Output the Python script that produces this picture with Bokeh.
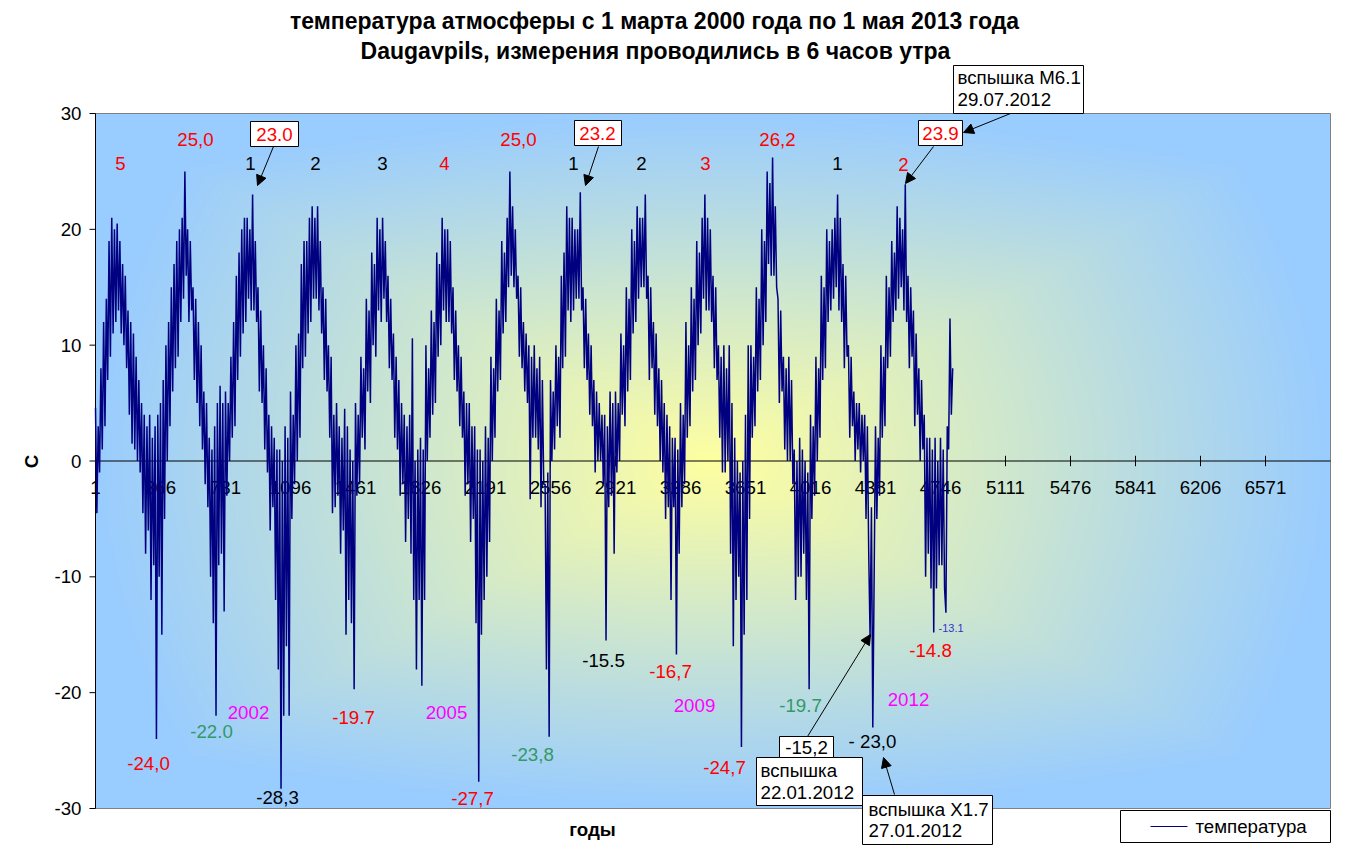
import numpy as np
from bokeh.plotting import figure
from bokeh.models import Range1d, Arrow, NormalHead
from bokeh.embed import file_html
from bokeh.resources import INLINE
from bokeh.core.properties import value

# ---- temperature at 6:00, Daugavpils (4 readings per month, Mar..Feb) ----
t_2000_01 = [4.6, -4.5, 3, -1, 8, 1, 12, 3, 14, 7, 19, 9, 21, 11, 20, 12, 20.5, 13, 19, 11, 17, 10, 16, 8,
             13, 4, 12, 1.5, 11, 1, 9, 0, 7, -1, 5, -4.5, 4, -8, 3, -6, 4, -12, 2, -9, 3, -24, 4, -10]
t_2001_02 = [5, -15, 7, -5, 10, 0, 12, 3, 15, 6, 17, 8, 19, 9, 20, 12, 21, 14, 25, 16, 20, 12, 19, 13,
             15, 7, 14, 5, 12, 3, 10, 1, 6, -2, 5, -4, 2, -10, 1, -14, 3, -22, 5, -9, 6.5, -8, 5, -13]
t_2002_03 = [6, -3, 5, 0, 9, 2, 12, 3, 16, 7, 18, 9, 20, 11, 21, 12, 21, 14, 20, 13, 23, 13, 19, 12,
             15, 6, 13, 5, 10, 1, 8, -1, 4, -6, 3, -4, 2, -12, 1, -18, 1, -28.3, 0, -22, 3, -16, 2, -22]
t_2003_04 = [6, -5, 4, -2, 10, 0, 11, 2, 17, 8, 19, 9, 19, 11, 21, 12, 22, 14, 21, 14, 22, 13, 19, 11,
             15, 7, 14, 6, 10, 2, 9, -4.5, 4, -4, 5, -3, 3, -8, 2, -6, 4.5, -15, 3, -12, 1, -14, 0, -19.7]
t_2004_05 = [5, -3, 4, -2, 9, 2, 8, 1, 14, 6, 13, 5, 18, 10, 17, 9, 21, 13, 20, 12, 21, 14, 19, 12,
             16, 8, 14, 7, 11, 2, 9, 1, 7, -3, 5, -2, 4, -7, 3, -5, 4, -8, 10.6, -12, 0, -18, 1, -12]
t_2005_06 = [2, -19.4, 1, -12, 10, 0, 8, 2, 13, 4, 12, 5, 18, 9, 17, 10, 21, 13, 20, 12, 20, 12, 19, 11,
             15, 7, 13, 6, 10, 3, 9, 2, 6, -3, 5, -2, 5, -7, 3, -5, 3, -14, 1, -27.7, 1, -15, 0, -12]
t_2006_07 = [3, -10, 2, -7, 9, 0, 8, 2, 14, 6, 13, 7, 19, 11, 18, 12, 21, 15, 25, 16, 22, 15, 20, 14,
             16, 9, 15, 8, 12, 6, 11, 5, 10, -3.3, 9, 2, 10, 2, 8, 1, 9, -4, 7, -2, -2, -18, -1, -23.8]
t_2007_08 = [7, 0, 6, 1, 10, 3, 9, 2, 16, 8, 18, 9, 22, 13, 21, 12, 21, 13, 20, 14, 20, 14, 23.2, 13,
             15, 8, 14, 7, 11, 4, 10, 3, 7, -1, 6, 0, 5, 0, 4, -2, 4, -15.5, 3, -4, 6, -3, 5, -8]
t_2008_09 = [6, -1, 5, 0, 11, 4, 10, 3, 15, 6, 14, 7, 20, 11, 19, 12, 22, 14, 21, 15, 21, 15, 23, 14,
             16, 7, 15, 8, 12, 4, 11, 3, 8, 0, 7, -1, 5, -5, 4, -4, 3, -12, 2, -4, 2, -16.7, 1, -8]
t_2009_10 = [5, -4, 4, -2, 12, 2, 10, 3, 15, 6, 14, 7, 19, 10, 18, 11, 21, 14, 23, 13, 21, 13, 20, 12,
             16, 8, 15, 7, 10, 2, 9, -1, 10, -1, 8, 0, 10, -8, 5, -16, 2, -12, 0, -10, -1, -24.7, 0, -15]
t_2010_11 = [4, -12, 10, -5, 10, 2, 9, 3, 15, 6, 14, 7, 20, 10, 19, 12, 25, 17, 24, 16, 26.2, 16, 22, 15,
             14, 5, 13, 6, 9, 1, 8, 0, 9, 0, 7, -2, 1, -12, 0, -10, 2, -10, 1, -8, 0, -12, -1, -19.7]
t_2011_12 = [4, -5, 3, -3, 9, 0, 8, 2, 16, 7, 15, 8, 20, 12, 19, 13, 20, 14, 21, 15, 23, 13, 21, 12,
             17, 8, 16, 9, 10, 2, 9, 3, 6, 0, 5, 1, 5, -1, 4, 0, 4, -5, 3, -8, -15.2, -4, -23.0, -10]
t_2012_13 = [3, -5, 2, -3, 10, 2, 9, 3, 16, 8, 15, 9, 19, 12, 18, 13, 22, 14, 21, 15, 20, 13, 23.9, 12,
             16, 8, 15, 9, 13, 3, 11, 4, 8, 0, 7, 1, 4, -10, 2, -8, 2, -11, 1, -14.8, 2, -11, 0, -9]
t_2013 = [2, -9, 1, -11, -13.1, 3, 1, 12.3, 4, 8]

x_tick_values = [1, 366, 731, 1096, 1461, 1826, 2191, 2556, 2921, 3286, 3651, 4016, 4381, 4746,
                 5111, 5476, 5841, 6206, 6571]
x_tick_labels = [str(v) for v in x_tick_values]
y_tick_values = [-30, -20, -10, 0, 10, 20, 30]
y_tick_labels = [str(v) for v in y_tick_values]

seasons = [t_2000_01, t_2001_02, t_2002_03, t_2003_04, t_2004_05, t_2005_06, t_2006_07,
           t_2007_08, t_2008_09, t_2009_10, t_2010_11, t_2011_12, t_2012_13, t_2013]
temps = np.concatenate([np.array(s, dtype=float) for s in seasons])
days = 1 + np.arange(len(temps)) * (365.0 / 48.0)

FONT = "Liberation Sans"

XMIN, XMAX, YMIN, YMAX = 1, 6936, -30, 30
# plot area in screenshot pixels: x 95..1330, y 113..808 ; canvas starts at screenshot (0, 0)
def dx(px):
    return XMIN + (px - 95) * (XMAX - XMIN) / 1235.0

def dy(py):
    return YMAX - (py - 113) * (YMAX - YMIN) / 695.0

W, H = 1355, 848
p = figure(width=W, height=H, x_range=Range1d(dx(0), dx(W)), y_range=Range1d(dy(H), dy(0)),
           output_backend="svg", toolbar_location=None, x_axis_location=None, y_axis_location=None,
           min_border=0)
p.title.visible = False
p.background_fill_color = "white"
p.border_fill_color = "white"
p.outline_line_color = None
p.grid.visible = False

# gradient plot-area background (from centre: pale yellow -> light blue)
gw, gh = 618, 348
u = (np.arange(gw) + 0.5) / gw * 2 - 1
v = (np.arange(gh) + 0.5) / gh * 2 - 1
U, V = np.meshgrid(u, v)
t = np.clip(0.6 * np.maximum(np.abs(U), np.abs(V)) + 0.4 * np.sqrt(U ** 2 + V ** 2), 0, 1)
c0 = np.array([255, 255, 160], dtype=float)
c1 = np.array([153, 204, 255], dtype=float)
img = np.empty((gh, gw), dtype=np.uint32)
view = img.view(dtype=np.uint8).reshape((gh, gw, 4))
for k in range(3):
    view[:, :, k] = np.round(c0[k] + (c1[k] - c0[k]) * t).astype(np.uint8)
view[:, :, 3] = 255
p.image_rgba(image=[img], x=XMIN, y=YMIN, dw=XMAX - XMIN, dh=YMAX - YMIN)
p.quad(left=[XMIN], right=[XMAX], bottom=[YMIN], top=[YMAX], fill_color=None,
       line_color="#808080", line_width=1)

# y axis
p.segment(x0=[XMIN], y0=[YMIN], x1=[XMIN], y1=[YMAX], line_color="black", line_width=1)
p.segment(x0=[dx(89)] * len(y_tick_values), y0=y_tick_values, x1=[XMIN] * len(y_tick_values),
          y1=y_tick_values, line_color="black", line_width=1)
p.text(x=[dx(81)] * len(y_tick_values), y=y_tick_values, text=y_tick_labels,
       text_font=value(FONT), text_font_size="18.7px", text_color="black",
       text_align="right", text_baseline="middle")

# zero line with ticks and labels (x axis crossing at 0)
p.segment(x0=[XMIN], y0=[0], x1=[XMAX], y1=[0], line_color="black", line_width=1)
p.segment(x0=x_tick_values, y0=[-0.45] * len(x_tick_values), x1=x_tick_values,
          y1=[0.45] * len(x_tick_values), line_color="black", line_width=1)
p.text(x=x_tick_values, y=[dy(487)] * len(x_tick_values), text=x_tick_labels,
       text_font=value(FONT), text_font_size="18.7px", text_color="black",
       text_align="center", text_baseline="middle")

# temperature line
p.line(days, temps, line_color="#000080", line_width=1.5)


def txt(px, py, text, color="black", size="18.7px", bold=False, font=FONT, align="center", angle=0):
    p.text(x=[dx(px)], y=[dy(py)], text=[text], text_color=color, text_font=value(font),
           text_font_size=size, text_font_style="bold" if bold else "normal",
           text_align=align, text_baseline="middle", angle=angle)


def box(px0, py0, px1, py1):
    p.quad(left=[dx(px0)], right=[dx(px1)], top=[dy(py0)], bottom=[dy(py1)],
           fill_color="white", line_color="black", line_width=1)


def arrow(px0, py0, px1, py1, head=True, color="black"):
    p.add_layout(Arrow(x_start=dx(px0), y_start=dy(py0), x_end=dx(px1), y_end=dy(py1),
                       line_color=color, line_width=1,
                       end=NormalHead(size=10, fill_color=color, line_color=color) if head else None))


RED, GREEN, MAG = "#FF0000", "#339966", "#FF00FF"

# titles
txt(654, 20, "температура атмосферы с 1 марта 2000 года по 1 мая 2013 года", size="23px", bold=True)
txt(655, 50, "Daugavpils, измерения проводились в 6 часов утра", size="23px", bold=True)
txt(592, 829, "годы", bold=True)
txt(31, 461, "C", bold=True, angle=np.pi / 2)

# top labels
txt(120, 163, "5", RED)
txt(195, 139, "25,0", RED)
txt(250, 163, "1")
txt(315, 163, "2")
txt(382, 163, "3")
txt(444, 163, "4", RED)
txt(518, 139, "25,0", RED)
txt(573, 163, "1")
txt(641, 163, "2")
txt(705, 163, "3", RED)
txt(777, 139, "26,2", RED)
txt(837, 163, "1")
txt(903, 164, "2", RED)

box(250, 121, 298, 146); txt(274, 134, "23.0", RED)
box(574, 120, 621, 145); txt(597, 133, "23.2", RED)
box(918, 120, 962, 145); txt(940, 133, "23.9", RED)
arrow(273, 146, 257, 185)
arrow(598, 146, 585, 185)
arrow(933, 146, 905, 183)

box(953, 65, 1083, 113)
txt(957, 77, "вспышка M6.1", align="left")
txt(957, 99, "29.07.2012", align="left")
arrow(1010, 113, 963, 132)

# bottom labels
txt(148, 763, "-24,0", RED)
txt(211, 731, "-22.0", GREEN)
txt(248, 712, "2002", MAG)
txt(277, 797, "-28,3")
txt(353, 717, "-19.7", RED)
txt(446, 712, "2005", MAG)
txt(472, 798, "-27,7", RED)
txt(532, 754, "-23,8", GREEN)
txt(603, 660, "-15.5")
txt(670, 671, "-16,7", RED)
txt(694, 705, "2009", MAG)
txt(724, 767, "-24,7", RED)
txt(800, 705, "-19.7", GREEN)
txt(908, 699, "2012", MAG)
txt(930, 650, "-14.8", RED)
txt(938, 627, "-13.1", "#3333CC", size="11px", align="left")
txt(872, 741, "- 23,0")

box(756, 757, 862, 805)
txt(760, 770, "вспышка", align="left")
txt(760, 792, "22.01.2012", align="left")
box(779, 736, 833, 757); txt(806, 747, "-15,2")
arrow(807, 736, 870, 634)

box(862, 795, 992, 844)
txt(868, 809, "вспышка X1.7", align="left")
txt(868, 830, "27.01.2012", align="left")
arrow(894, 794, 883, 757)

# legend
box(1120, 810, 1330, 842)
p.segment(x0=[dx(1150)], y0=[dy(826)], x1=[dx(1187)], y1=[dy(826)], line_color="#000080", line_width=1)
txt(1195, 826, "температура", align="left")

open("out.html", "w").write(file_html(p, INLINE))
